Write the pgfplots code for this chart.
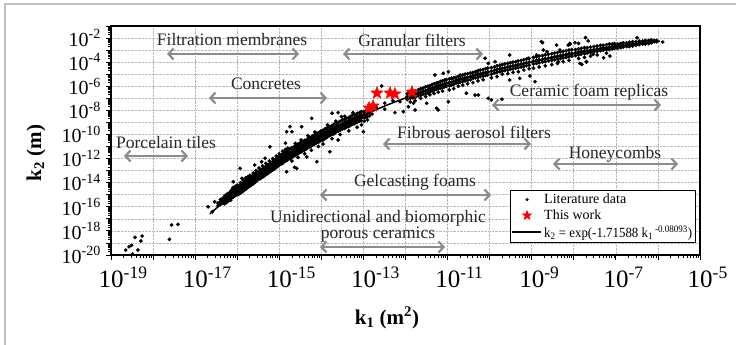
\documentclass[border=0pt]{standalone}
\usepackage{fontspec}
\setmainfont{Liberation Serif}
\usepackage{graphicx}
\usepackage{pgfplots}
\pgfplotsset{compat=1.18}
\usetikzlibrary{arrows.meta}
\definecolor{arrgray}{RGB}{140,140,140}
\definecolor{anntext}{RGB}{40,40,40}
\newcommand{\tp}[1]{10\textsuperscript{#1}}
\pgfdeclareplotmark{fstar}{%
  \pgfpathmoveto{\pgfpointpolar{90}{\pgfplotmarksize}}%
  \pgfpathlineto{\pgfpointpolar{126}{0.42\pgfplotmarksize}}%
  \pgfpathlineto{\pgfpointpolar{162}{\pgfplotmarksize}}%
  \pgfpathlineto{\pgfpointpolar{198}{0.42\pgfplotmarksize}}%
  \pgfpathlineto{\pgfpointpolar{234}{\pgfplotmarksize}}%
  \pgfpathlineto{\pgfpointpolar{270}{0.42\pgfplotmarksize}}%
  \pgfpathlineto{\pgfpointpolar{306}{\pgfplotmarksize}}%
  \pgfpathlineto{\pgfpointpolar{342}{0.42\pgfplotmarksize}}%
  \pgfpathlineto{\pgfpointpolar{18}{\pgfplotmarksize}}%
  \pgfpathlineto{\pgfpointpolar{54}{0.42\pgfplotmarksize}}%
  \pgfpathclose
  \pgfusepathqfillstroke}
\pgfplotsset{
  dotlegend/.style={legend image code/.code={\draw[##1, mark size=1.4pt] plot coordinates {(15pt,0pt)};}},
  starlegend/.style={legend image code/.code={\draw[##1, mark size=4.5pt] plot coordinates {(15pt,0pt)};}},
  linelegend/.style={legend image code/.code={\draw[##1] (0pt,0pt) -- (29pt,0pt);}},
}
\begin{document}
\begin{tikzpicture}[x=1pt,y=1pt]
\useasboundingbox (0,0) rectangle (736,345);
\draw[gray!50, line width=1.6pt] (5,0) -- (5,341) -- (736,341);
\begin{loglogaxis}[
  at={(111pt,90pt)}, anchor=south west,
  width=589pt, height=229pt, scale only axis,
  xmin=1e-19, xmax=1e-5, ymin=1e-20, ymax=1e-1,
  xtick={1e-19,1e-18,1e-17,1e-16,1e-15,1e-14,1e-13,1e-12,1e-11,1e-10,1e-9,1e-8,1e-7,1e-6,1e-5},
  xticklabels={\tp{-19},{},\tp{-17},{},\tp{-15},{},\tp{-13},{},\tp{-11},{},\tp{-9},{},\tp{-7},{},\tp{-5}},
  ytick={1e-20,1e-19,1e-18,1e-17,1e-16,1e-15,1e-14,1e-13,1e-12,1e-11,1e-10,1e-9,1e-8,1e-7,1e-6,1e-5,1e-4,1e-3,1e-2,1e-1},
  yticklabels={\tp{-20},{},\tp{-18},{},\tp{-16},{},\tp{-14},{},\tp{-12},{},\tp{-10},{},\tp{-8},{},\tp{-6},{},\tp{-4},{},\tp{-2},{}},
  tick align=outside, xtick pos=bottom, ytick pos=left,
  major tick length=5pt, minor tick length=3pt,
  tick style={black, line width=0.8pt},
  axis line style={black, line width=1.2pt},
  grid=major, major grid style={densely dotted, gray!55, line width=0.6pt},
  xticklabel style={font=\fontsize{25}{25}\selectfont, anchor=north west, inner sep=0pt, xshift=-12.5pt, yshift=-7pt},
  yticklabel style={font=\fontsize{20}{20}\selectfont, anchor=east, inner sep=0pt, xshift=-5pt},
  legend style={at={(axis description cs:0.677,0.052)}, anchor=south west, draw=black, line width=0.8pt, fill=white,
    font=\fontsize{14}{14}\selectfont, inner xsep=1pt, inner ysep=1.5pt, row sep=0pt,
    nodes={inner sep=2.3pt}},
  legend cell align=left,
]
% fitted curve k2 = exp(-1.71588 k1^-0.08093)
\addplot[black, line width=1.5pt, forget plot] coordinates {
(2.24e-17,2.57e-17)(3.16e-17,7.4e-17)(5.62e-17,4.0e-16)(1e-16,2.0e-15)(1.78e-16,9.3e-15)(3.16e-16,4.1e-14)
(5.62e-16,1.66e-13)(1e-15,6.3e-13)(1.78e-15,2.3e-12)(3.16e-15,7.8e-12)(5.62e-15,2.5e-11)(1e-14,7.4e-11)
(1.78e-14,2.2e-10)(3.16e-14,6.0e-10)(5.62e-14,1.58e-9)(1e-13,4.0e-9)(1.78e-13,9.5e-9)(3.16e-13,2.24e-8)
(5.62e-13,5e-8)(1e-12,1.07e-7)(3.16e-12,4.5e-7)(1e-11,1.62e-6)(3.16e-11,5.4e-6)(1e-10,1.58e-5)
(3.16e-10,4.2e-5)(1e-9,1.02e-4)(3.16e-9,2.3e-4)(1e-8,4.9e-4)(3.16e-8,9.5e-4)(1e-7,1.78e-3)
(3.16e-7,3.2e-3)(1e-6,5.2e-3)(1.12e-6,5.5e-3)};
% literature data
\addplot[only marks, mark=*, mark size=1.75pt, black, mark options={fill=black, draw=black, line width=0.3pt}, dotlegend] coordinates {
(2.24e-19,2.57e-20)(2.69e-19,4.9e-20)(3.09e-19,6.3e-20)(3.72e-19,2.88e-19)(5.13e-19,1.45e-19)(5.5e-19,3.7e-19)
(4.37e-19,2.57e-20)(3.24e-19,1.2e-20)(2.45e-18,2.0e-19)(2.75e-18,3.1e-18)(3.9e-18,3.5e-18)(2.04e-17,1.0e-16)
(2.57e-17,3.9e-17)(2.9e-17,2.6e-16)
(3.5e-17,2e-16)(3.5e-17,1.26e-16)
(4e-17,2.5e-16)(4e-17,1.6e-16)(4e-17,4e-16)
(4.5e-17,3.2e-16)(4.5e-17,2e-16)(4.5e-17,5e-16)
(5e-17,5e-16)(5e-17,2.8e-16)(5e-17,1.8e-16)(5e-17,7.9e-16)
(5.5e-17,6.3e-16)(5.5e-17,3.5e-16)(5.5e-17,2.2e-16)(5.5e-17,1e-15)
(6e-17,7.9e-16)(6e-17,4.5e-16)(6e-17,2.8e-16)(6e-17,1.26e-15)(6e-17,6.3e-16)
(6.5e-17,1e-15)(6.5e-17,5.6e-16)(6.5e-17,3.5e-16)(6.5e-17,1.4e-15)
(7e-17,1.26e-15)(7e-17,7.9e-16)(7e-17,5e-16)(7e-17,2e-15)(7e-17,3.5e-16)
(7.5e-17,1.4e-15)(7.5e-17,8.9e-16)(7.5e-17,5.6e-16)(7.5e-17,2.5e-15)
(8e-17,1.8e-15)(8e-17,1.1e-15)(8e-17,6.3e-16)(8e-17,2.8e-15)(8e-17,4e-15)
(8.5e-17,2e-15)(8.5e-17,1.26e-15)(8.5e-17,7.9e-16)(8.5e-17,3.2e-15)
(9e-17,2.5e-15)(9e-17,1.4e-15)(9e-17,8.9e-16)(9e-17,3.5e-15)(9e-17,5e-15)
(9.5e-17,2.8e-15)(9.5e-17,1.8e-15)(9.5e-17,1.1e-15)(9.5e-17,4.5e-15)
(1e-16,4e-15)(1e-16,2.5e-15)(1.02e-16,1.6e-15)(9.8e-17,1e-15)(1e-16,6.3e-15)
(1.1e-16,5e-15)(1.1e-16,2.8e-15)(1.12e-16,1.8e-15)(1.08e-16,1.1e-15)
(1.2e-16,6.3e-15)(1.2e-16,3.5e-15)(1.22e-16,2.2e-15)(1.18e-16,1.4e-15)(1.2e-16,1e-14)
(1.3e-16,7.9e-15)(1.3e-16,4.5e-15)(1.32e-16,2.8e-15)(1.28e-16,1.6e-15)
(1.4e-16,1e-14)(1.4e-16,5.6e-15)(1.42e-16,3.5e-15)(1.38e-16,2e-15)(1.4e-16,1.6e-14)
(1.5e-16,1.1e-14)(1.5e-16,7.1e-15)(1.52e-16,4e-15)(1.48e-16,2.5e-15)
(1.6e-16,1.4e-14)(1.6e-16,7.9e-15)(1.62e-16,5e-15)(1.58e-16,2.8e-15)(1.6e-16,2.5e-14)
(1.7e-16,1.6e-14)(1.7e-16,1e-14)(1.72e-16,6.3e-15)(1.68e-16,3.5e-15)
(1.8e-16,2e-14)(1.8e-16,1.1e-14)(1.82e-16,7.1e-15)(1.78e-16,4e-15)(1.8e-16,3.2e-14)
(1.9e-16,2.2e-14)(1.9e-16,1.26e-14)(1.92e-16,7.9e-15)(1.88e-16,5e-15)
(2e-16,2.5e-14)(2e-16,1.4e-14)(2.03e-16,8.9e-15)(1.97e-16,5e-15)(2e-16,4e-14)
(2.2e-16,3.2e-14)(2.2e-16,1.8e-14)(2.23e-16,1.1e-14)(2.17e-16,6.3e-15)
(2.4e-16,4e-14)(2.4e-16,2.2e-14)(2.43e-16,1.4e-14)(2.37e-16,7.9e-15)(2.4e-16,6.3e-14)
(2.6e-16,5e-14)(2.6e-16,2.8e-14)(2.63e-16,1.8e-14)(2.57e-16,1e-14)
(2.8e-16,5.6e-14)(2.8e-16,3.5e-14)(2.83e-16,2e-14)(2.77e-16,1.26e-14)(2.8e-16,1e-13)
(3e-16,7.1e-14)(3e-16,4e-14)(3.04e-16,2.5e-14)(2.96e-16,1.6e-14)
(3.3e-16,8.9e-14)(3.3e-16,5e-14)(3.34e-16,3.2e-14)(3.26e-16,2e-14)(3.3e-16,1.6e-13)
(3.6e-16,1.1e-13)(3.6e-16,6.3e-14)(3.65e-16,4e-14)(3.55e-16,2.2e-14)
(4e-16,1.4e-13)(4e-16,7.9e-14)(4.05e-16,5e-14)(3.95e-16,2.8e-14)(4e-16,2.5e-13)
(4.4e-16,1.8e-13)(4.4e-16,1e-13)(4.45e-16,6.3e-14)(4.35e-16,3.5e-14)
(4.8e-16,2.2e-13)(4.8e-16,1.26e-13)(4.86e-16,7.9e-14)(4.74e-16,4.5e-14)(4.8e-16,4e-13)
(5.3e-16,2.8e-13)(5.3e-16,1.6e-13)(5.36e-16,1e-13)(5.24e-16,5.6e-14)
(5.8e-16,3.5e-13)(5.8e-16,2e-13)(5.87e-16,1.26e-13)(5.73e-16,7.1e-14)(5.8e-16,6.3e-13)
(6.4e-16,4.5e-13)(6.4e-16,2.5e-13)(6.48e-16,1.6e-13)(6.32e-16,8.9e-14)
(7e-16,5.6e-13)(7e-16,3.2e-13)(7.08e-16,2e-13)(6.92e-16,1.1e-13)(7e-16,1e-12)
(7.7e-16,7.1e-13)(7.7e-16,4e-13)(7.8e-16,2.5e-13)(7.6e-16,1.4e-13)
(8.5e-16,8.9e-13)(8.5e-16,5e-13)(8.6e-16,3.2e-13)(8.4e-16,1.8e-13)(8.5e-16,1.6e-12)
(9.3e-16,1.1e-12)(9.3e-16,6.3e-13)(9.4e-16,4e-13)(9.2e-16,2.2e-13)
(1.17e-16,1.55e-13)(2.6e-16,2.9e-13)(3.8e-16,5.5e-13)(6e-16,9.5e-12)(4.6e-16,1.05e-12)(8.1e-17,1.2e-14)(1.3e-16,2.3e-14)
(1e-15,1.6e-12)(1e-15,8.9e-13)(1.01e-15,5e-13)(9.9e-16,2.8e-13)(1e-15,2.5e-12)
(1.1e-15,2e-12)(1.1e-15,1.1e-12)(1.11e-15,6.3e-13)(1.09e-15,3.5e-13)
(1.2e-15,2.5e-12)(1.2e-15,1.26e-12)(1.21e-15,7.9e-13)(1.19e-15,4e-13)(1.2e-15,4e-12)
(1.3e-15,2.8e-12)(1.3e-15,1.6e-12)(1.32e-15,8.9e-13)(1.28e-15,5e-13)
(1.4e-15,3.5e-12)(1.4e-15,2e-12)(1.42e-15,1.1e-12)(1.38e-15,6.3e-13)(1.4e-15,5.6e-12)
(1.5e-15,4e-12)(1.5e-15,2.2e-12)(1.52e-15,1.26e-12)(1.48e-15,7.1e-13)
(1.6e-15,4.5e-12)(1.6e-15,2.5e-12)(1.62e-15,1.4e-12)(1.58e-15,7.9e-13)(1.6e-15,7.1e-12)
(1.8e-15,6.3e-12)(1.8e-15,3.2e-12)(1.82e-15,1.8e-12)(1.78e-15,1e-12)
(2e-15,7.9e-12)(2e-15,4e-12)(2.03e-15,2.2e-12)(1.97e-15,1.26e-12)(2e-15,6.3e-13)
(2.2e-15,8.9e-12)(2.2e-15,5e-12)(2.23e-15,2.8e-12)(2.17e-15,1.6e-12)
(2.4e-15,1.1e-11)(2.4e-15,5.6e-12)(2.43e-15,3.2e-12)(2.37e-15,1.8e-12)(2.4e-15,1.8e-11)
(2.6e-15,1.26e-11)(2.6e-15,7.1e-12)(2.63e-15,4e-12)(2.57e-15,2.2e-12)
(2.8e-15,1.6e-11)(2.8e-15,7.9e-12)(2.83e-15,4.5e-12)(2.77e-15,2.5e-12)(2.8e-15,1.26e-12)
(3e-15,1.8e-11)(3e-15,1e-11)(3.04e-15,5.6e-12)(2.96e-15,3.2e-12)
(3.3e-15,2.2e-11)(3.3e-15,1.1e-11)(3.34e-15,6.3e-12)(3.26e-15,3.5e-12)(3.3e-15,3.5e-11)
(3.6e-15,2.5e-11)(3.6e-15,1.4e-11)(3.65e-15,7.9e-12)(3.55e-15,4.5e-12)
(4e-15,3.2e-11)(4e-15,1.6e-11)(4.05e-15,1e-11)(3.95e-15,5e-12)(4e-15,2.5e-12)
(4.4e-15,3.5e-11)(4.4e-15,2e-11)(4.45e-15,1.1e-11)(4.35e-15,6.3e-12)
(4.8e-15,4.5e-11)(4.8e-15,2.5e-11)(4.86e-15,1.4e-11)(4.74e-15,7.9e-12)(4.8e-15,7.9e-11)
(5.3e-15,5.6e-11)(5.3e-15,2.8e-11)(5.36e-15,1.6e-11)(5.24e-15,8.9e-12)
(5.8e-15,6.3e-11)(5.8e-15,3.5e-11)(5.87e-15,2e-11)(5.73e-15,1.1e-11)(5.8e-15,5e-12)
(6.4e-15,7.9e-11)(6.4e-15,4.5e-11)(6.48e-15,2.5e-11)(6.32e-15,1.4e-11)
(7e-15,1e-10)(7e-15,5e-11)(7.08e-15,3.2e-11)(6.92e-15,1.6e-11)(7e-15,1.6e-10)
(7.7e-15,1.1e-10)(7.7e-15,6.3e-11)(7.8e-15,3.5e-11)(7.6e-15,2e-11)
(8.5e-15,1.4e-10)(8.5e-15,7.1e-11)(8.6e-15,4e-11)(8.4e-15,2.2e-11)(8.5e-15,1e-11)
(9.3e-15,1.6e-10)(9.3e-15,8.9e-11)(9.4e-15,5e-11)(9.2e-15,2.8e-11)
(5.9e-15,2.2e-9)(3.4e-15,4.4e-10)(2e-15,1.7e-10)(1.5e-15,1.7e-10)(1.4e-15,1.9e-11)(2.3e-15,1.9e-13)
(7.8e-15,5.5e-13)(4.5e-15,1.4e-12)(1.8e-15,4.4e-10)(1.4e-15,1.4e-12)(1.5e-15,8.1e-14)(2.6e-15,1.55e-13)
(1e-14,2e-10)(1e-14,1e-10)(1.01e-14,5.6e-11)(9.9e-15,3.2e-11)
(1.1e-14,2.2e-10)(1.1e-14,1.26e-10)(1.11e-14,7.1e-11)(1.09e-14,3.5e-11)(1.1e-14,1.6e-11)
(1.2e-14,2.8e-10)(1.2e-14,1.4e-10)(1.21e-14,7.9e-11)(1.19e-14,4.5e-11)
(1.3e-14,3.2e-10)(1.3e-14,1.6e-10)(1.32e-14,8.9e-11)(1.28e-14,5e-11)
(1.4e-14,3.5e-10)(1.4e-14,2e-10)(1.42e-14,1.1e-10)(1.38e-14,6.3e-11)(1.4e-14,6.3e-10)
(1.6e-14,4.5e-10)(1.6e-14,2.5e-10)(1.62e-14,1.4e-10)(1.58e-14,7.9e-11)
(1.8e-14,5.6e-10)(1.8e-14,3.2e-10)(1.82e-14,1.8e-10)(1.78e-14,1e-10)(1.8e-14,4.5e-11)
(2e-14,7.1e-10)(2e-14,3.5e-10)(2.03e-14,2e-10)(1.97e-14,1.1e-10)
(2.2e-14,7.9e-10)(2.2e-14,4.5e-10)(2.23e-14,2.5e-10)(2.17e-14,1.4e-10)(2.2e-14,1.26e-9)
(2.5e-14,1e-9)(2.5e-14,5.6e-10)(2.53e-14,3.2e-10)(2.47e-14,1.8e-10)
(2.8e-14,1.26e-9)(2.8e-14,6.3e-10)(2.83e-14,4e-10)(2.77e-14,2.2e-10)(2.8e-14,1e-10)
(3.2e-14,1.6e-9)(3.2e-14,7.9e-10)(3.24e-14,5e-10)(3.16e-14,2.8e-10)
(3.6e-14,1.8e-9)(3.6e-14,1e-9)(3.65e-14,5.6e-10)(3.55e-14,3.2e-10)(3.6e-14,3.2e-9)
(4e-14,2.2e-9)(4e-14,1.1e-9)(4.05e-14,7.1e-10)(3.95e-14,4e-10)
(4.5e-14,2.5e-9)(4.5e-14,1.4e-9)(4.55e-14,7.9e-10)(4.45e-14,4.5e-10)(4.5e-14,2e-10)
(5e-14,3.2e-9)(5e-14,1.8e-9)(5.06e-14,1e-9)(4.94e-14,5.6e-10)
(5.6e-14,4e-9)(5.6e-14,2e-9)(5.67e-14,1.26e-9)(5.53e-14,7.1e-10)(5.6e-14,6.3e-9)
(6.3e-14,4.5e-9)(6.3e-14,2.5e-9)(6.38e-14,1.4e-9)(6.22e-14,7.9e-10)
(7.1e-14,5.6e-9)(7.1e-14,3.2e-9)(7.2e-14,1.8e-9)(7e-14,1e-9)(7.1e-14,4e-10)
(8e-14,6.3e-9)(8e-14,3.5e-9)(8.1e-14,2.2e-9)(7.9e-14,1.26e-9)
(9e-14,7.9e-9)(9e-14,4.5e-9)(9.1e-14,2.5e-9)(8.9e-14,1.4e-9)(9e-14,6.3e-10)
(1.6e-14,3.7e-12)(2.5e-14,3.5e-11)(1.8e-14,5.8e-9)(2.5e-14,6.5e-9)(3e-14,3e-9)(4.4e-14,8.3e-10)(1e-13,1.7e-10)
(1.05e-13,7.9e-9)(1.05e-13,4.5e-9)(1.05e-13,2.5e-9)(1.05e-13,1.26e-9)
(1.15e-13,8.9e-9)(1.15e-13,5e-9)(1.15e-13,2.8e-9)
(1.25e-13,1e-8)(1.25e-13,5.6e-9)(1.25e-13,3.2e-9)(1.25e-13,1.6e-9)
(1.4e-13,1.1e-8)(1.4e-13,6.3e-9)(1.4e-13,3.5e-9)
(1.6e-13,1.4e-8)(1.6e-13,5e-9)(2e-13,1.8e-8)(3.2e-13,4e-8)(3.2e-13,1.26e-8)(5e-13,6.3e-8)
(5.6e-13,6.5e-9)(8.9e-13,7.8e-9)(1.17e-12,2e-8)(1.7e-12,1.07e-8)(1.55e-12,3.9e-8)(3.2e-12,3.9e-8)
(5.5e-12,1.48e-8)(6e-12,1.07e-8)(1.05e-11,5.2e-8)(7.4e-13,5.2e-8)(2.7e-13,1.05e-6)
(1.1e-12,2.5e-7)(1.1e-12,1.4e-7)(1.1e-12,7.9e-8)
(1.3e-12,3.2e-7)(1.3e-12,1.8e-7)(1.3e-12,1e-7)(1.3e-12,5e-8)
(1.5e-12,3.5e-7)(1.5e-12,2e-7)(1.5e-12,1.1e-7)
(1.7e-12,4e-7)(1.7e-12,2.2e-7)(1.7e-12,1.26e-7)(1.7e-12,6.3e-8)
(2e-12,5e-7)(2e-12,2.8e-7)(2e-12,1.6e-7)
(2.3e-12,6.3e-7)(2.3e-12,3.2e-7)(2.3e-12,1.8e-7)(2.3e-12,1e-7)
(2.6e-12,7.1e-7)(2.6e-12,4e-7)(2.6e-12,2.2e-7)
(3e-12,8.9e-7)(3e-12,4.5e-7)(3e-12,2.5e-7)(3e-12,1.4e-7)
(3.4e-12,1e-6)(3.4e-12,5e-7)(3.4e-12,2.8e-7)
(3.8e-12,1.1e-6)(3.8e-12,6.3e-7)(3.8e-12,3.5e-7)(3.8e-12,2e-7)
(4.3e-12,1.4e-6)(4.3e-12,7.1e-7)(4.3e-12,4e-7)
(4.8e-12,1.6e-6)(4.8e-12,7.9e-7)(4.8e-12,5e-7)(4.8e-12,2.5e-7)
(5.4e-12,1.8e-6)(5.4e-12,1e-6)(5.4e-12,5.6e-7)
(6e-12,2e-6)(6e-12,1.1e-6)(6e-12,6.3e-7)(6e-12,3.2e-7)
(6.8e-12,2.5e-6)(6.8e-12,1.26e-6)(6.8e-12,7.1e-7)
(7.6e-12,2.8e-6)(7.6e-12,1.4e-6)(7.6e-12,7.9e-7)(7.6e-12,4e-7)
(8.5e-12,3.2e-6)(8.5e-12,1.6e-6)(8.5e-12,8.9e-7)
(9.3e-12,3.5e-6)(9.3e-12,1.8e-6)(9.3e-12,1e-6)
(5e-12,8.5e-6)(7.9e-12,1.17e-5)(1.05e-11,1.6e-5)(2e-11,8.5e-6)(1.26e-11,4.6e-6)
(1.1e-11,4e-6)(1.1e-11,2e-6)(1.1e-11,1.1e-6)(1.1e-11,5e-7)
(1.25e-11,4.5e-6)(1.25e-11,2.2e-6)(1.25e-11,1.26e-6)
(1.4e-11,5e-6)(1.4e-11,2.5e-6)(1.4e-11,1.4e-6)(1.4e-11,6.3e-7)
(1.6e-11,5.6e-6)(1.6e-11,3.2e-6)(1.6e-11,1.8e-6)
(1.8e-11,6.3e-6)(1.8e-11,3.5e-6)(1.8e-11,2e-6)(1.8e-11,1e-6)
(2e-11,7.1e-6)(2e-11,4e-6)(2e-11,2.2e-6)
(2.3e-11,8.9e-6)(2.3e-11,4.5e-6)(2.3e-11,2.5e-6)(2.3e-11,1.26e-6)
(2.6e-11,1e-5)(2.6e-11,5e-6)(2.6e-11,2.8e-6)
(3e-11,1.1e-5)(3e-11,5.6e-6)(3e-11,3.2e-6)(3e-11,1.6e-6)
(3.5e-11,1.26e-5)(3.5e-11,6.3e-6)(3.5e-11,3.5e-6)
(4e-11,1.4e-5)(4e-11,7.9e-6)(4e-11,4.5e-6)(4e-11,2e-6)
(4.6e-11,1.6e-5)(4.6e-11,8.9e-6)(4.6e-11,5e-6)
(5.3e-11,2e-5)(5.3e-11,1e-5)(5.3e-11,5.6e-6)(5.3e-11,2.8e-6)
(6e-11,2.2e-5)(6e-11,1.1e-5)(6e-11,6.3e-6)
(7e-11,2.5e-5)(7e-11,1.26e-5)(7e-11,7.1e-6)(7e-11,3.5e-6)
(8e-11,2.8e-5)(8e-11,1.4e-5)(8e-11,7.9e-6)
(9e-11,3.2e-5)(9e-11,1.6e-5)(9e-11,8.9e-6)
(2.8e-11,2.6e-7)(4.5e-11,1.86e-7)(5.4e-11,1.86e-7)(9.3e-11,1e-7)(1.1e-10,7.2e-8)(1.95e-10,8.3e-8)
(7.8e-11,2.1e-4)(9.3e-11,7.9e-5)(1.35e-10,1.1e-4)(3e-10,3.9e-4)(4.9e-11,1.6e-5)
(1.1e-10,3.5e-5)(1.1e-10,1.8e-5)(1.1e-10,1e-5)(1.1e-10,5e-6)
(1.3e-10,4e-5)(1.3e-10,2.2e-5)(1.3e-10,1.26e-5)
(1.5e-10,5e-5)(1.5e-10,2.5e-5)(1.5e-10,1.4e-5)(1.5e-10,6.3e-6)
(1.75e-10,5.6e-5)(1.75e-10,2.8e-5)(1.75e-10,1.6e-5)
(2e-10,6.3e-5)(2e-10,3.2e-5)(2e-10,1.8e-5)(2e-10,1e-5)
(2.3e-10,7.1e-5)(2.3e-10,3.5e-5)(2.3e-10,2e-5)
(2.7e-10,7.9e-5)(2.7e-10,4e-5)(2.7e-10,2.2e-5)(2.7e-10,1.1e-5)
(3.1e-10,8.9e-5)(3.1e-10,4.5e-5)(3.1e-10,2.5e-5)
(3.6e-10,1e-4)(3.6e-10,5e-5)(3.6e-10,2.8e-5)(3.6e-10,1.4e-5)
(4.2e-10,1.1e-4)(4.2e-10,5.6e-5)(4.2e-10,3.2e-5)
(4.8e-10,1.26e-4)(4.8e-10,6.3e-5)(4.8e-10,3.5e-5)(4.8e-10,1.6e-5)
(5.6e-10,1.4e-4)(5.6e-10,7.1e-5)(5.6e-10,4e-5)
(6.5e-10,1.6e-4)(6.5e-10,7.9e-5)(6.5e-10,4.5e-5)(6.5e-10,2.2e-5)
(7.5e-10,1.8e-4)(7.5e-10,8.9e-5)(7.5e-10,5e-5)
(8.7e-10,2e-4)(8.7e-10,1e-4)(8.7e-10,5.6e-5)(8.7e-10,2.8e-5)
(3e-10,3.3e-6)(5.2e-10,4.6e-6)(9.1e-10,7.1e-6)(1.2e-9,2.4e-6)(8.3e-10,2.1e-4)(1.3e-9,3.9e-4)
(1.1e-9,2.5e-4)(1.1e-9,1.26e-4)(1.1e-9,7.1e-5)(1.1e-9,3.2e-5)
(1.3e-9,2.8e-4)(1.3e-9,1.4e-4)(1.3e-9,7.9e-5)
(1.5e-9,3.2e-4)(1.5e-9,1.6e-4)(1.5e-9,8.9e-5)(1.5e-9,4e-5)
(1.8e-9,3.5e-4)(1.8e-9,1.8e-4)(1.8e-9,1e-4)
(2.1e-9,4e-4)(2.1e-9,2e-4)(2.1e-9,1.1e-4)(2.1e-9,5e-5)
(2.5e-9,4.5e-4)(2.5e-9,2.2e-4)(2.5e-9,1.26e-4)
(3e-9,5e-4)(3e-9,2.5e-4)(3e-9,1.4e-4)(3e-9,6.3e-5)
(3.5e-9,5.6e-4)(3.5e-9,2.8e-4)(3.5e-9,1.6e-4)
(4.1e-9,6.3e-4)(4.1e-9,3.2e-4)(4.1e-9,1.8e-4)(4.1e-9,7.9e-5)
(4.8e-9,7.1e-4)(4.8e-9,3.5e-4)(4.8e-9,2e-4)
(5.6e-9,7.9e-4)(5.6e-9,4e-4)(5.6e-9,2.2e-4)(5.6e-9,1.1e-4)
(6.6e-9,8.9e-4)(6.6e-9,4.5e-4)(6.6e-9,2.5e-4)
(7.7e-9,1e-3)(7.7e-9,5e-4)(7.7e-9,2.8e-4)(7.7e-9,1.4e-4)
(9e-9,1.1e-3)(9e-9,5.6e-4)(9e-9,3.2e-4)
(1.8e-9,4.2e-3)(3.9e-9,2.6e-3)(4.7e-9,1.02e-3)(1.9e-9,1.02e-3)(2.3e-9,7.4e-4)(7.4e-9,2.6e-3)
(1.3e-8,3.6e-3)(2e-8,1.1e-4)(1.7e-9,5e-3)(8.1e-9,3.6e-3)(1.4e-8,7.9e-5)(4.3e-9,1.1e-4)
(1.1e-8,1.1e-3)(1.1e-8,6.3e-4)(1.1e-8,3.5e-4)
(1.3e-8,1.26e-3)(1.3e-8,7.1e-4)(1.3e-8,4e-4)(1.3e-8,2e-4)
(1.5e-8,1.4e-3)(1.5e-8,7.9e-4)(1.5e-8,4.5e-4)
(1.8e-8,1.6e-3)(1.8e-8,8.9e-4)(1.8e-8,5e-4)(1.8e-8,2.5e-4)
(2.1e-8,1.6e-3)(2.1e-8,8.9e-4)(2.1e-8,5.6e-4)
(2.5e-8,1.8e-3)(2.5e-8,1e-3)(2.5e-8,6.3e-4)(2.5e-8,3.2e-4)
(3e-8,2e-3)(3e-8,1.1e-3)(3e-8,7.1e-4)
(3.6e-8,2.2e-3)(3.6e-8,1.26e-3)(3.6e-8,7.9e-4)(3.6e-8,4e-4)
(4.3e-8,2.5e-3)(4.3e-8,1.4e-3)(4.3e-8,8.9e-4)
(5e-8,2.5e-3)(5e-8,1.6e-3)(5e-8,1e-3)
(6e-8,2.8e-3)(6e-8,1.6e-3)(6e-8,1.1e-3)(6e-8,5.6e-4)
(7e-8,3.2e-3)(7e-8,1.8e-3)(7e-8,1.1e-3)
(8.2e-8,3.2e-3)(8.2e-8,2e-3)(8.2e-8,1.26e-3)
(9.3e-8,3.5e-3)(9.3e-8,2.2e-3)(9.3e-8,1.4e-3)
(1.55e-8,6.6e-5)(2e-8,1.02e-4)(5.1e-8,2.3e-4)(7.2e-8,3.2e-4)(2.9e-8,4.5e-4)(1.9e-8,1.07e-2)
(8.1e-9,3e-3)(1.07e-8,4.1e-3)(2.2e-8,5.8e-3)
(1.1e-7,3.2e-3)(1.1e-7,2.2e-3)(1.1e-7,1.4e-3)
(1.3e-7,3.5e-3)(1.3e-7,2.5e-3)(1.3e-7,1.6e-3)
(1.5e-7,4e-3)(1.5e-7,2.5e-3)(1.5e-7,1.8e-3)
(1.8e-7,4e-3)(1.8e-7,2.8e-3)(1.8e-7,2e-3)
(2.1e-7,4.5e-3)(2.1e-7,3.2e-3)(2.1e-7,2e-3)
(2.5e-7,5e-3)(2.5e-7,3.2e-3)(2.5e-7,2.2e-3)
(3e-7,5e-3)(3e-7,3.5e-3)(3e-7,2.5e-3)
(3.6e-7,5.6e-3)(3.6e-7,4e-3)(3.6e-7,2.8e-3)
(4.3e-7,5.6e-3)(4.3e-7,4e-3)(4.3e-7,3.2e-3)
(5e-7,6.3e-3)(5e-7,4.5e-3)(5e-7,3.2e-3)
(6e-7,6.3e-3)(6e-7,4.5e-3)(6e-7,3.5e-3)
(7e-7,7.1e-3)(7e-7,5e-3)(7e-7,4e-3)
(8.2e-7,6.3e-3)(8.2e-7,5e-3)(9.3e-7,6.3e-3)(9.3e-7,5e-3)
(1.3e-6,4.7e-3)(3.2e-7,1.07e-2)
};
\addlegendentry{Literature data}
% this work
\addplot[only marks, mark=fstar, mark size=6.5pt, red, fill=red, starlegend] coordinates {
(1.36e-13,1.57e-8)(1.7e-13,2.3e-8)(2.1e-13,2.75e-7)(4.3e-13,2.75e-7)(5.6e-13,2.3e-7)(1.43e-12,3.3e-7)};
\addlegendentry{This work}
\addlegendimage{black, line width=1.8pt, linelegend}
\addlegendentry{\scalebox{0.92}[1]{k\textsubscript{2} = exp(-1.71588 k\textsubscript{1}\,\textsuperscript{-0.08093})}}
\end{loglogaxis}
% axis titles
\node[rotate=90, font=\fontsize{21}{21}\selectfont\bfseries] at (36,192) {k\textsubscript{2} (m)};
\node[font=\fontsize{21}{21}\selectfont\bfseries] at (387,27) {k\textsubscript{1} (m\textsuperscript{2})};
% annotations
\tikzset{ann/.style={font=\fontsize{17.5}{14.5}\selectfont, text=anntext, inner sep=0pt},
  arr/.style={{Straight Barb[length=5pt,width=11pt]}-{Straight Barb[length=5pt,width=11pt]}, arrgray, line width=2.2pt}}
\node[ann] at (232,305) {Filtration membranes};
\draw[arr] (167,291) -- (299,291);
\node[ann] at (412,305) {Granular filters};
\draw[arr] (343,291) -- (483,291);
\node[ann] at (266,261) {Concretes};
\draw[arr] (209,247) -- (327,247);
\node[ann] at (166,202) {Porcelain tiles};
\draw[arr] (124,189) -- (188,189);
\node[ann] at (589,253) {Ceramic foam replicas};
\draw[arr] (492,240) -- (661,240);
\node[ann] at (474,213) {Fibrous aerosol filters};
\draw[arr] (383,201) -- (531,201);
\node[ann] at (615,191) {Honeycombs};
\draw[arr] (553,181) -- (678,181);
\node[ann] at (415,163) {Gelcasting foams};
\draw[arr] (320,150) -- (491,150);
\node[ann, align=center] at (378,119) {Unidirectional and biomorphic\\porous ceramics};
\draw[arr] (320,98) -- (445,98);
\end{tikzpicture}
\end{document}
